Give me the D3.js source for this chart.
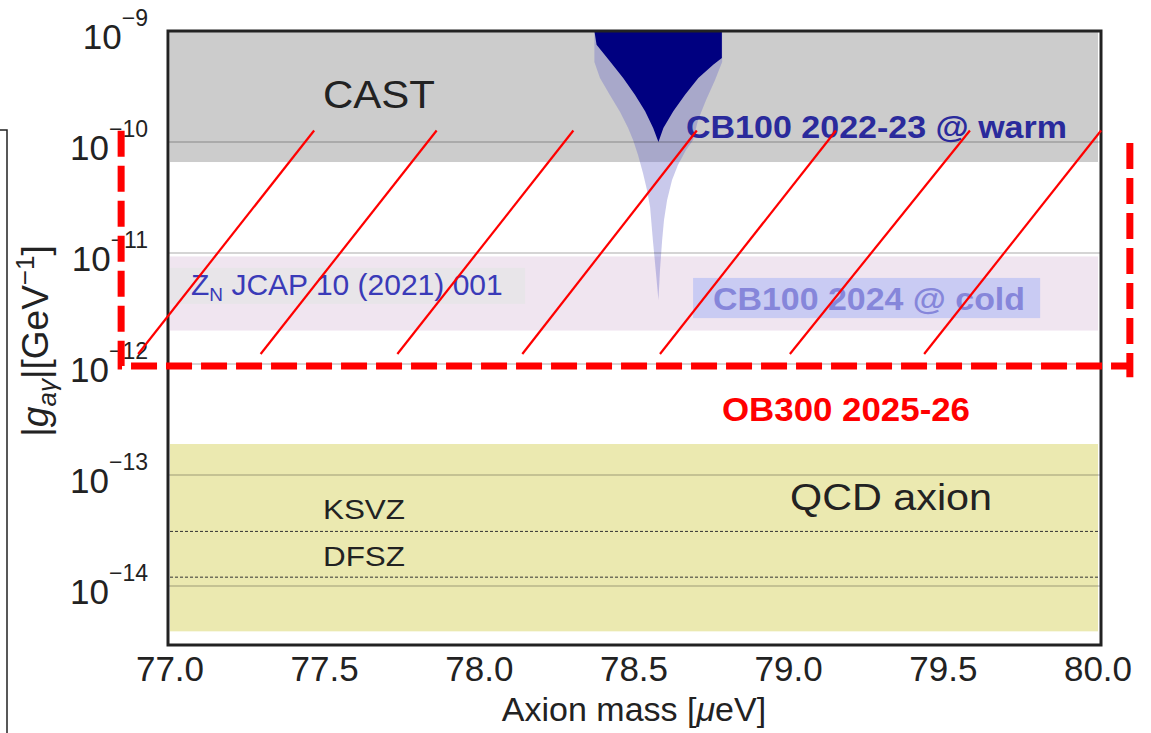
<!DOCTYPE html>
<html>
<head>
<meta charset="utf-8">
<script src="https://cdn.jsdelivr.net/npm/d3@7"></script>
<style>
  html, body { margin: 0; padding: 0; background: #fff; }
  svg text { font-family: "Liberation Sans", Arial, Helvetica, sans-serif; }
</style>
</head>
<body>
<svg id="chart" width="1151" height="733"></svg>
<script>
// axis ticks
const massTicks = [77.0, 77.5, 78.0, 78.5, 79.0, 79.5, 80.0];
const couplingExponents = [-9, -10, -11, -12, -13, -14];

// horizontal bands over the whole mass range, coupling in GeV^-1
const bandMass = [77.0, 80.0];
const castLimit = 6.6e-11;
const znBand = [2.0e-12, 9.3e-12];
const qcdBand = [3.9e-15, 1.9e-13];
const ksvzLine = 3.1e-14;
const dfszLine = 1.2e-14;

// CB100 2022-23 @ warm exclusion (dark core)
const warmMass = [78.372, 78.379, 78.422, 78.465, 78.503, 78.536, 78.562, 78.579,
  78.595, 78.627, 78.665, 78.708, 78.756, 78.784, 78.784];
const warmG = [1.0e-9, 7.53e-10, 5.33e-10, 3.78e-10, 2.67e-10, 1.89e-10, 1.34e-10, 1.0e-10,
  1.34e-10, 1.89e-10, 2.67e-10, 3.78e-10, 4.97e-10, 5.71e-10, 1.0e-9];

// wider (light) envelope of the same scan
const envMass = [78.372, 78.372, 78.390, 78.422, 78.455, 78.481, 78.497, 78.513, 78.529,
  78.542, 78.552, 78.561, 78.571, 78.579, 78.584, 78.591, 78.597, 78.607, 78.623,
  78.642, 78.668, 78.691, 78.707, 78.733, 78.762, 78.785, 78.785];
const envG = [1.0e-9, 5.26e-10, 3.78e-10, 2.65e-10, 1.86e-10, 1.34e-10, 1.04e-10, 7.64e-11, 5.26e-11,
  3.70e-11, 2.59e-11, 1.31e-11, 6.61e-12, 3.78e-12, 7.03e-12, 1.31e-11, 1.98e-11, 3.00e-11, 4.55e-11,
  6.21e-11, 8.47e-11, 1.04e-10, 1.58e-10, 2.39e-10, 3.62e-10, 5.26e-10, 1.0e-9];

// label boxes [mass0, mass1, g0, g1]
const znBox = [77.0, 78.148, 3.48e-12, 7.33e-12];
const coldBox = [78.691, 79.813, 2.59e-12, 5.96e-12];

// OB300 2025-26 projection: hatch lines and dashed outline
const hatchTopMass = [77.466, 77.862, 78.304, 78.703, 79.153, 79.586, 80.010];
const hatchBottomMass = [76.897, 77.293, 77.735, 78.139, 78.584, 79.004, 79.438];
const hatchG = [1.27e-10, 1.23e-12];
const obLeft = { mass: 76.842, g: [1.26e-10, 9.6e-13] };
const obRight = { mass: 80.103, g: [9.8e-11, 7.6e-13] };

const svg = d3.select("#chart");

const x = d3.scaleLinear().domain([77, 80]).range([170, 1098]);
const y = d3.scaleLog().domain([1e-9, Math.pow(10, -14.532)]).range([31, 645]);

const [x0, x1] = [x(77) - 2, x(80) + 3];
const [yTop, yBot] = y.range();

svg.append("defs").append("clipPath").attr("id", "plot-clip")
  .append("rect").attr("x", x0).attr("y", yTop).attr("width", x1 - x0).attr("height", yBot - yTop);

const plot = svg.append("g").attr("clip-path", "url(#plot-clip)");

function band(g0, g1, fill) {
  plot.append("rect")
    .attr("x", x(bandMass[0]))
    .attr("width", x(bandMass[1]) - x(bandMass[0]))
    .attr("y", y(g1))
    .attr("height", y(g0) - y(g1))
    .attr("fill", fill);
}

function box(b, fill) {
  plot.append("rect")
    .attr("x", x(b[0]))
    .attr("width", x(b[1]) - x(b[0]))
    .attr("y", y(b[3]))
    .attr("height", y(b[2]) - y(b[3]))
    .attr("fill", fill);
}

band(castLimit, 1e-9, "#cccccc");
band(znBand[0], znBand[1], "#f0e5f0");
band(qcdBand[0], qcdBand[1], "#ebe9b0");
box(znBox, "#e8e5e9");
box(coldBox, "#c9cbf3");

const area = d3.line().x((d) => x(d[0])).y((d) => y(d[1]));

plot.append("path")
  .attr("d", area(d3.zip(envMass, envG)) + "Z")
  .attr("fill", "rgba(105,105,200,0.36)");

plot.append("path")
  .attr("d", area(d3.zip(warmMass, warmG)) + "Z")
  .attr("fill", "#000080");

// decade grid lines
plot.selectAll("line.grid")
  .data(couplingExponents.slice(1))
  .join("line")
  .attr("class", "grid")
  .attr("x1", x0).attr("x2", x1)
  .attr("y1", (d) => y(Math.pow(10, d)))
  .attr("y2", (d) => y(Math.pow(10, d)))
  .attr("stroke", "rgba(0,0,0,0.22)")
  .attr("stroke-width", 1.5);

// KSVZ / DFSZ model lines
plot.selectAll("line.model")
  .data([ksvzLine, dfszLine])
  .join("line")
  .attr("class", "model")
  .attr("x1", x(bandMass[0])).attr("x2", x(bandMass[1]))
  .attr("y1", (d) => y(d)).attr("y2", (d) => y(d))
  .attr("stroke", "#333")
  .attr("stroke-width", 1)
  .attr("stroke-dasharray", "3,2");

// frame
svg.append("rect")
  .attr("x", x0).attr("y", yTop)
  .attr("width", x1 - x0).attr("height", yBot - yTop)
  .attr("fill", "none")
  .attr("stroke", "#222")
  .attr("stroke-width", 3);

// x axis tick labels
svg.append("g")
  .selectAll("text")
  .data(massTicks)
  .join("text")
  .attr("x", (d) => x(d))
  .attr("y", 681)
  .attr("text-anchor", "middle")
  .attr("font-size", 35)
  .attr("fill", "#222")
  .text((d) => d3.format(".1f")(d));

// y axis tick labels: 10^n
const yTicks = svg.append("g")
  .selectAll("text")
  .data(couplingExponents)
  .join("text")
  .attr("x", 148)
  .attr("y", (d) => y(Math.pow(10, d)) + 18)
  .attr("text-anchor", "end")
  .attr("fill", "#222");
yTicks.append("tspan").attr("font-size", 35).text("10");
yTicks.append("tspan").attr("font-size", 23).attr("dy", -23).text((d) => "\u2212" + Math.abs(d));

// axis titles
svg.append("text")
  .attr("x", 634)
  .attr("y", 721)
  .attr("text-anchor", "middle")
  .attr("font-size", 34)
  .attr("fill", "#222")
  .call((t) => {
    t.append("tspan").text("Axion mass [");
    t.append("tspan").attr("font-style", "italic").text("\u03bc");
    t.append("tspan").text("eV]");
  });

svg.append("text")
  .attr("transform", "translate(48,341) rotate(-90)")
  .attr("text-anchor", "middle")
  .attr("font-size", 37)
  .attr("fill", "#222")
  .call((t) => {
    t.append("tspan").text("|");
    t.append("tspan").attr("font-style", "italic").text("g");
    t.append("tspan").attr("font-size", 26).attr("font-style", "italic").attr("dy", 8).text("a\u03b3");
    t.append("tspan").attr("dy", -8).text("|[GeV");
    t.append("tspan").attr("font-size", 26).attr("dy", -14).text("\u22121");
    t.append("tspan").attr("dy", 14).text("]");
  });

// region labels
function label(txt, px, py, size, fill, opts = {}) {
  const t = svg.append("text")
    .attr("x", px).attr("y", py)
    .attr("font-size", size)
    .attr("fill", fill)
    .attr("font-weight", opts.bold ? "bold" : "normal")
    .text(txt);
  if (opts.len) t.attr("textLength", opts.len).attr("lengthAdjust", "spacingAndGlyphs");
  return t;
}

label("CAST", 323, 108, 39, "#222", { len: 112 });
label("QCD axion", 790, 510, 36, "#222", { len: 202 });
label("KSVZ", 323, 519, 27, "#222", { len: 82 });
label("DFSZ", 323, 566, 27, "#222", { len: 82 });
label("CB100 2022-23 @ warm", 686, 138, 32, "#2a2a9c", { bold: true, len: 381 });
label("CB100 2024 @ cold", 713, 310, 32, "#8686da", { bold: true, len: 312 });

svg.append("text")
  .attr("x", 191).attr("y", 295)
  .attr("font-size", 30)
  .attr("fill", "#3a3ab8")
  .call((t) => {
    t.append("tspan").text("Z");
    t.append("tspan").attr("font-size", 19).attr("dy", 6).text("N");
    t.append("tspan").attr("dy", -6).text(" JCAP 10 (2021) 001");
  });

// OB300 projection overlay
const overlay = svg.append("g");

overlay.selectAll("line.hatch")
  .data(d3.zip(hatchBottomMass, hatchTopMass))
  .join("line")
  .attr("class", "hatch")
  .attr("x1", (d) => x(d[0])).attr("y1", y(hatchG[1]))
  .attr("x2", (d) => x(d[1])).attr("y2", y(hatchG[0]))
  .attr("stroke", "#ff0000")
  .attr("stroke-width", 2.2);

const dashed = (sel) => sel
  .attr("fill", "none")
  .attr("stroke", "#ff0000")
  .attr("stroke-width", 7)
  .attr("stroke-dasharray", "26,9");

overlay.append("path")
  .attr("d", area([[obLeft.mass, obLeft.g[0]], [obLeft.mass, obLeft.g[1]], [obRight.mass, obLeft.g[1]]]))
  .call(dashed);

overlay.append("path")
  .attr("d", area([[obRight.mass, obRight.g[0]], [obRight.mass, obRight.g[1]]]))
  .call(dashed);

label("OB300 2025-26", 722, 421, 34, "#ff0000", { bold: true, len: 248 });

// edge of a neighbouring box on the slide
svg.append("path")
  .attr("d", "M0,130H7V740")
  .attr("fill", "none")
  .attr("stroke", "#222")
  .attr("stroke-width", 1.5);
</script>
</body>
</html>
